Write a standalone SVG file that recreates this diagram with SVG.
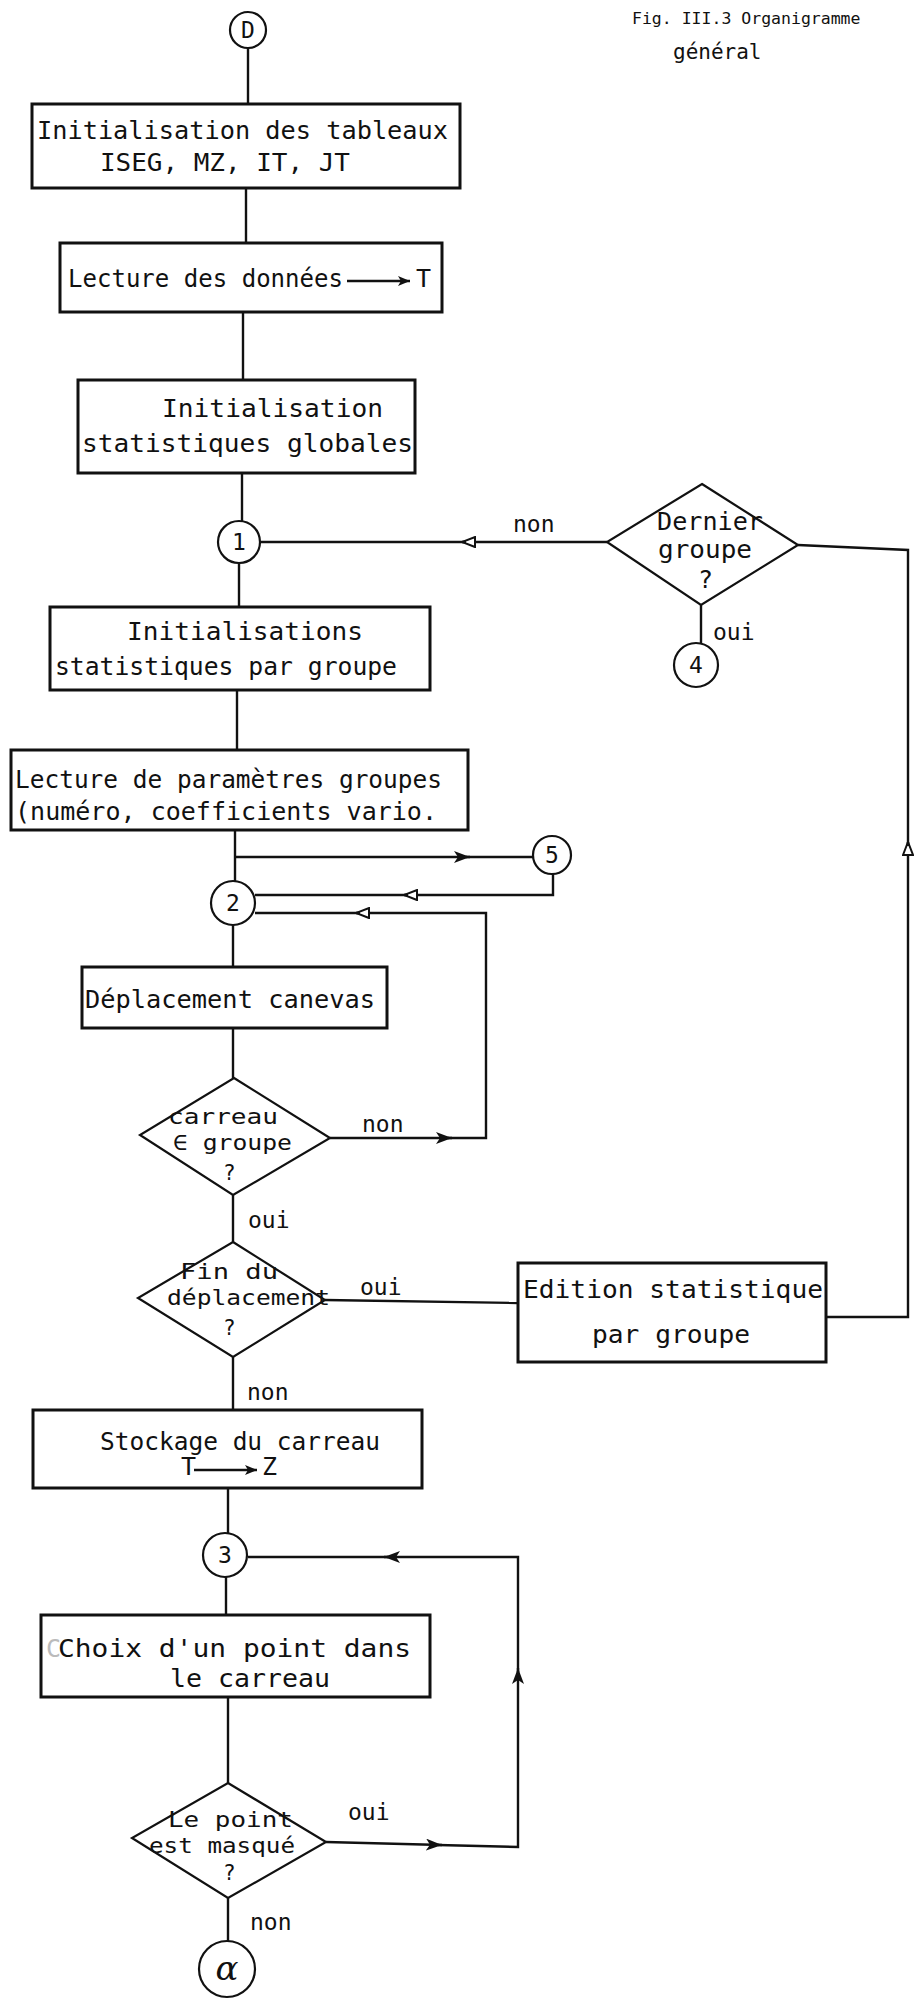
<svg xmlns="http://www.w3.org/2000/svg" width="922" height="2000" viewBox="0 0 922 2000">
<style>
.bg{fill:#ffffff}
.box{fill:#ffffff;stroke:#111;stroke-width:3}
.dia{fill:#ffffff;stroke:#111;stroke-width:2.2}
.cir{fill:#ffffff;stroke:#111;stroke-width:2.2}
.ln{fill:none;stroke:#111;stroke-width:2.4;stroke-linejoin:miter}
.t{font-family:"DejaVu Sans Mono","Liberation Mono",monospace;font-size:25px;fill:#111}
.d{font-family:"DejaVu Sans Mono","Liberation Mono",monospace;font-size:21px;fill:#111}
.lbl{font-family:"DejaVu Sans Mono","Liberation Mono",monospace;font-size:23px;fill:#111}
.num{font-family:"DejaVu Sans Mono","Liberation Mono",monospace;font-size:23px;fill:#111;text-anchor:middle}
.ttl{font-family:"DejaVu Sans Mono","Liberation Mono",monospace;font-size:16.5px;fill:#111}
.ttl2{font-family:"DejaVu Sans Mono","Liberation Mono",monospace;font-size:21px;fill:#111}
</style>
<defs>
<marker id="open" viewBox="0 0 14 12" refX="14" refY="6" markerWidth="14" markerHeight="12" orient="auto" markerUnits="userSpaceOnUse">
<path d="M1,1 L14,6 L1,11 Z" fill="#fff" stroke="#111" stroke-width="2"/>
</marker>
<marker id="fill" viewBox="0 0 16 12" refX="16" refY="6" markerWidth="16" markerHeight="12" orient="auto" markerUnits="userSpaceOnUse">
<path d="M0,0 L16,6 L0,12 L4,6 Z" fill="#111"/>
</marker>
<marker id="small" viewBox="0 0 12 10" refX="12" refY="5" markerWidth="12" markerHeight="10" orient="auto" markerUnits="userSpaceOnUse">
<path d="M0,0 L12,5 L0,10 L3,5 Z" fill="#111"/>
</marker>
</defs>
<rect class="bg" x="0" y="0" width="922" height="2000"/>

<g id="title">
<text class="ttl" x="632" y="24">Fig. III.3 Organigramme</text>
<text class="ttl2" x="673" y="59">général</text>
</g>

<g id="connectors">
<path class="ln" d="M248,48 V104"/>
<path class="ln" d="M246,188 V243"/>
<path class="ln" d="M243,312 V380"/>
<path class="ln" d="M242,473 V521"/>
<path class="ln" d="M239,563 V607"/>
<path class="ln" d="M237,690 V750"/>
<path class="ln" d="M235,830 V881"/>
<path class="ln" d="M235,857 H470" marker-end="url(#fill)"/>
<path class="ln" d="M466,857 H533"/>
<path class="ln" d="M553,874 V895 H404" marker-end="url(#open)"/>
<path class="ln" d="M408,895 H255"/>
<path class="ln" d="M330,1138 H452" marker-end="url(#fill)"/>
<path class="ln" d="M448,1138 H486 V913 H356" marker-end="url(#open)"/>
<path class="ln" d="M360,913 H255"/>
<path class="ln" d="M233,925 V967"/>
<path class="ln" d="M233,1028 V1078"/>
<path class="ln" d="M233,1195 V1242"/>
<path class="ln" d="M325,1300 L518,1303"/>
<path class="ln" d="M826,1317 H908 V842" marker-end="url(#open)"/>
<path class="ln" d="M908,846 V550 L798,545"/>
<path class="ln" d="M607,542 H462" marker-end="url(#open)"/>
<path class="ln" d="M466,542 H261"/>
<path class="ln" d="M701,605 V643"/>
<path class="ln" d="M233,1357 V1410"/>
<path class="ln" d="M228,1488 V1534"/>
<path class="ln" d="M226,1577 V1615"/>
<path class="ln" d="M228,1697 V1783"/>
<path class="ln" d="M326,1842 L442,1845" marker-end="url(#fill)"/>
<path class="ln" d="M438,1845 L518,1847 V1668" marker-end="url(#fill)"/>
<path class="ln" d="M518,1672 V1557 H384" marker-end="url(#fill)"/>
<path class="ln" d="M388,1557 H248"/>
<path class="ln" d="M228,1898 V1941"/>
</g>

<g id="labels">
<text class="lbl" x="513" y="532">non</text>
<text class="lbl" x="713" y="640">oui</text>
<text class="lbl" x="362" y="1132">non</text>
<text class="lbl" x="248" y="1228">oui</text>
<text class="lbl" x="360" y="1295">oui</text>
<text class="lbl" x="247" y="1400">non</text>
<text class="lbl" x="348" y="1820">oui</text>
<text class="lbl" x="250" y="1930">non</text>
</g>

<g id="node-D">
<circle class="cir" cx="248" cy="30" r="18"/>
<text class="num" x="248" y="38">D</text>
</g>

<g id="node-init-tableaux">
<rect class="box" x="32" y="104" width="428" height="84"/>
<text class="t" x="37" y="139" textLength="411" lengthAdjust="spacingAndGlyphs">Initialisation des tableaux</text>
<text class="t" x="100" y="171" textLength="250" lengthAdjust="spacingAndGlyphs">ISEG, MZ, IT, JT</text>
</g>

<g id="node-lecture-donnees">
<rect class="box" x="60" y="243" width="382" height="69"/>
<text class="t" x="68" y="287" textLength="275" lengthAdjust="spacingAndGlyphs">Lecture des données</text>
<path class="ln" d="M347,281 H410" marker-end="url(#small)"/>
<text class="t" x="416" y="287">T</text>
</g>

<g id="node-init-globales">
<rect class="box" x="78" y="380" width="337" height="93"/>
<text class="t" x="162" y="417" textLength="221" lengthAdjust="spacingAndGlyphs">Initialisation</text>
<text class="t" x="82" y="452" textLength="331" lengthAdjust="spacingAndGlyphs">statistiques globales</text>
</g>

<g id="node-1">
<circle class="cir" cx="239" cy="542" r="21"/>
<text class="num" x="239" y="550">1</text>
</g>

<g id="node-dernier-groupe">
<polygon class="dia" points="702,484 798,545 701,605 607,542"/>
<text class="t" x="657" y="530" textLength="106" lengthAdjust="spacingAndGlyphs">Dernier</text>
<text class="t" x="658" y="558" textLength="94" lengthAdjust="spacingAndGlyphs">groupe</text>
<text class="t" x="698" y="588">?</text>
</g>

<g id="node-4">
<circle class="cir" cx="696" cy="665" r="22"/>
<text class="num" x="696" y="673">4</text>
</g>

<g id="node-init-groupe">
<rect class="box" x="50" y="607" width="380" height="83"/>
<text class="t" x="127" y="640" textLength="236" lengthAdjust="spacingAndGlyphs">Initialisations</text>
<text class="t" x="55" y="675" textLength="342" lengthAdjust="spacingAndGlyphs">statistiques par groupe</text>
</g>

<g id="node-lecture-parametres">
<rect class="box" x="11" y="750" width="457" height="80"/>
<text class="t" x="15" y="788" textLength="427" lengthAdjust="spacingAndGlyphs">Lecture de paramètres groupes</text>
<text class="t" x="15" y="820" textLength="422" lengthAdjust="spacingAndGlyphs">(numéro, coefficients vario.</text>
</g>

<g id="node-5">
<circle class="cir" cx="552" cy="855" r="19"/>
<text class="num" x="552" y="863">5</text>
</g>

<g id="node-2">
<circle class="cir" cx="233" cy="903" r="22"/>
<text class="num" x="233" y="911">2</text>
</g>

<g id="node-deplacement">
<rect class="box" x="82" y="967" width="305" height="61"/>
<text class="t" x="85" y="1008" textLength="290" lengthAdjust="spacingAndGlyphs">Déplacement canevas</text>
</g>

<g id="node-carreau-groupe">
<polygon class="dia" points="234,1078 330,1138 233,1195 140,1135"/>
<text class="d" x="168" y="1124" textLength="110" lengthAdjust="spacingAndGlyphs">carreau</text>
<text class="d" x="173" y="1150" textLength="119" lengthAdjust="spacingAndGlyphs">∈ groupe</text>
<text class="d" x="223" y="1180">?</text>
</g>

<g id="node-fin-deplacement">
<polygon class="dia" points="233,1242 325,1300 233,1357 138,1298"/>
<text class="d" x="180" y="1279" textLength="98" lengthAdjust="spacingAndGlyphs">Fin du</text>
<text class="d" x="167" y="1305" textLength="163" lengthAdjust="spacingAndGlyphs">déplacement</text>
<text class="d" x="223" y="1335">?</text>
</g>

<g id="node-edition">
<rect class="box" x="518" y="1263" width="308" height="99"/>
<text class="t" x="523" y="1298" textLength="300" lengthAdjust="spacingAndGlyphs">Edition statistique</text>
<text class="t" x="592" y="1343" textLength="158" lengthAdjust="spacingAndGlyphs">par groupe</text>
</g>

<g id="node-stockage">
<rect class="box" x="33" y="1410" width="389" height="78"/>
<text class="t" x="100" y="1450" textLength="280" lengthAdjust="spacingAndGlyphs">Stockage du carreau</text>
<text class="t" x="181" y="1475">T</text>
<path class="ln" d="M194,1470 H257" marker-end="url(#small)"/>
<text class="t" x="262" y="1475">Z</text>
</g>

<g id="node-3">
<circle class="cir" cx="225" cy="1555" r="22"/>
<text class="num" x="225" y="1563">3</text>
</g>

<g id="node-choix-point">
<rect class="box" x="41" y="1615" width="389" height="82"/>
<text class="t" x="46" y="1657" style="fill:#bbb">C</text>
<text class="t" x="58" y="1657" textLength="353" lengthAdjust="spacingAndGlyphs">Choix d'un point dans</text>
<text class="t" x="170" y="1687" textLength="160" lengthAdjust="spacingAndGlyphs">le carreau</text>
</g>

<g id="node-point-masque">
<polygon class="dia" points="228,1783 326,1842 228,1898 132,1838"/>
<text class="d" x="168" y="1827" textLength="125" lengthAdjust="spacingAndGlyphs">Le point</text>
<text class="d" x="149" y="1853" textLength="146" lengthAdjust="spacingAndGlyphs">est masqué</text>
<text class="d" x="223" y="1880">?</text>
</g>

<g id="node-alpha">
<circle class="cir" cx="227" cy="1969" r="28"/>
<text x="227" y="1980" text-anchor="middle" style="font-family:'DejaVu Serif','Liberation Serif',serif;font-size:34px;font-style:italic;fill:#111">α</text>
</g>
</svg>
